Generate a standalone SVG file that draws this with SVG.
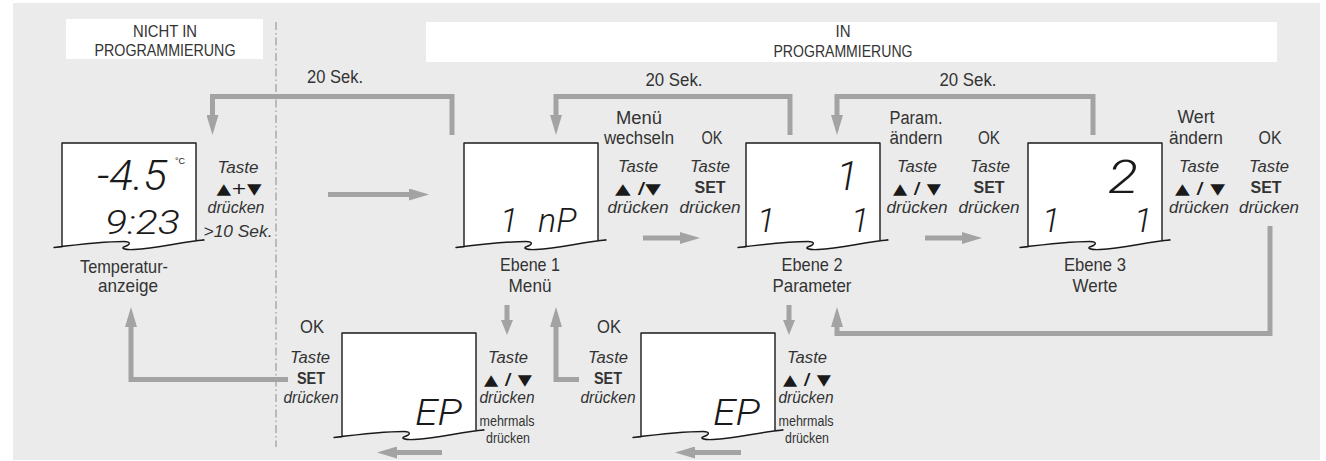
<svg xmlns="http://www.w3.org/2000/svg" xmlns:xlink="http://www.w3.org/1999/xlink" width="1326" height="461" viewBox="0 0 1326 461">
<style>
.bg{fill:#ebebeb}
.hdr{fill:#ffffff}
.t{font-family:"Liberation Sans Narrow","Liberation Sans",Arial,sans-serif;fill:#333;text-anchor:middle}
.f17{font-size:17px}
.f18{font-size:18px}
.f19{font-size:19px}
.f16{font-size:16px}
.f14{font-size:14px}
.tri{font-family:"DejaVu Sans","Liberation Sans",sans-serif;font-size:15px;fill:#1a1a1a;text-anchor:middle}
.i{font-style:italic}
.b{font-weight:bold}
.lcd{fill:#fff;stroke:#1a1a1a;stroke-width:1.4;stroke-linejoin:round}
.seg{font-family:Roboto,"Open Sans","Liberation Sans",sans-serif;font-weight:300;font-style:italic;fill:#1a1a1a}
.con{fill:none;stroke:#a3a3a3;stroke-width:5;stroke-linejoin:miter}
.div{stroke:#9a9a9a;stroke-width:1.2;stroke-dasharray:8 3 1.5 3;fill:none}
</style>
<defs>
<path id="lcdshape" class="lcd" d="M0,0 H134 V97.6 L142,97 C120,99 95,105 72,106.5 C62,107 58,105 63,103.5 C68,102 70,98.5 62,98.5 C45,98.5 20,101 -8,104.5 L0,103.8 Z"/>
<marker id="ah" markerUnits="userSpaceOnUse" viewBox="0 0 20 12" markerWidth="20" markerHeight="12" refX="2" refY="6" orient="auto">
<path d="M0,0 L20,6 L0,12 Z" fill="#a3a3a3"/>
</marker>
<marker id="ahs" markerUnits="userSpaceOnUse" viewBox="0 0 15 12" markerWidth="15" markerHeight="12" refX="2" refY="6" orient="auto">
<path d="M0,0 L15,6 L0,12 Z" fill="#a3a3a3"/>
</marker>
</defs>

<rect class="bg" x="13" y="3" width="1307" height="457"/>

<g id="header-nicht">
<rect class="hdr" x="66" y="19" width="197" height="40"/>
<text class="t f17" x="165" y="37" textLength="64" lengthAdjust="spacingAndGlyphs">NICHT IN</text>
<text class="t f17" x="165" y="56" textLength="141" lengthAdjust="spacingAndGlyphs">PROGRAMMIERUNG</text>
</g>
<g id="header-in">
<rect class="hdr" x="426" y="22" width="851" height="40"/>
<text class="t f17" x="843" y="37" textLength="15" lengthAdjust="spacingAndGlyphs">IN</text>
<text class="t f17" x="843" y="57" textLength="139" lengthAdjust="spacingAndGlyphs">PROGRAMMIERUNG</text>
</g>

<line class="div" x1="276" y1="22" x2="276" y2="447"/>

<g id="connectors">
<path class="con" d="M452,135 V96.5 H212.5 V117" marker-end="url(#ah)"/>
<path class="con" d="M790,135 V96.5 H556 V117" marker-end="url(#ah)"/>
<path class="con" d="M1093,135 V96.5 H837 V117" marker-end="url(#ah)"/>
<path class="con" d="M328,194.5 H411" marker-end="url(#ah)"/>
<path class="con" d="M643,238 H682" marker-end="url(#ah)"/>
<path class="con" d="M925,238 H964" marker-end="url(#ah)"/>
<path class="con" d="M507,305 V322" marker-end="url(#ahs)"/>
<path class="con" d="M789,305 V322" marker-end="url(#ahs)"/>
<path class="con" d="M288,379.5 H131 V325" marker-end="url(#ah)"/>
<path class="con" d="M579,379.5 H556 V325" marker-end="url(#ah)"/>
<path class="con" d="M1270,226 V333.5 H837 V325" marker-end="url(#ah)"/>
<path class="con" d="M442,452.5 H395" marker-end="url(#ah)"/>
<path class="con" d="M741,452.5 H693" marker-end="url(#ah)"/>
<text class="t f18" x="335" y="83" textLength="56" lengthAdjust="spacingAndGlyphs">20 Sek.</text>
<text class="t f18" x="674" y="86" textLength="57" lengthAdjust="spacingAndGlyphs">20 Sek.</text>
<text class="t f18" x="968" y="86" textLength="57" lengthAdjust="spacingAndGlyphs">20 Sek.</text>
</g>

<g id="temperaturanzeige">
<use xlink:href="#lcdshape" href="#lcdshape" transform="translate(62,143)"/>
<text class="seg" x="97" y="190" font-size="42" textLength="70" lengthAdjust="spacingAndGlyphs">-4.5</text>
<text x="175" y="164" font-size="9" font-family="Liberation Sans, Arial, sans-serif" fill="#1a1a1a">°C</text>
<text class="seg" x="105" y="234" font-size="34" textLength="75" lengthAdjust="spacingAndGlyphs">9:23</text>
<text class="t f19" x="124" y="273" textLength="88" lengthAdjust="spacingAndGlyphs">Temperatur-</text>
<text class="t f19" x="128" y="292" textLength="60" lengthAdjust="spacingAndGlyphs">anzeige</text>
<text class="t f16 i" x="238" y="173" textLength="41" lengthAdjust="spacingAndGlyphs">Taste</text>
<text class="tri" x="239" y="194" textLength="45" lengthAdjust="spacingAndGlyphs">▲+▼</text>
<text class="t f16 i" x="236" y="213" textLength="57" lengthAdjust="spacingAndGlyphs">drücken</text>
<text class="t f16 i" x="238" y="237" textLength="69" lengthAdjust="spacingAndGlyphs">&gt;10 Sek.</text>
</g>

<g id="ebene1">
<use xlink:href="#lcdshape" href="#lcdshape" transform="translate(464,143)"/>
<text class="seg" y="232" font-size="34"><tspan x="500">1 </tspan><tspan x="538">nP</tspan></text>
<text class="t f19" x="530" y="271" textLength="60" lengthAdjust="spacingAndGlyphs">Ebene 1</text>
<text class="t f19" x="530" y="292" textLength="43" lengthAdjust="spacingAndGlyphs">Menü</text>
<text class="t f18" x="639" y="124" textLength="46" lengthAdjust="spacingAndGlyphs">Menü</text>
<text class="t f18" x="639" y="144" textLength="70" lengthAdjust="spacingAndGlyphs">wechseln</text>
<text class="t f16 i" x="638" y="172" textLength="40" lengthAdjust="spacingAndGlyphs">Taste</text>
<text class="tri b" x="638" y="194" textLength="46" lengthAdjust="spacingAndGlyphs">▲ /▼</text>
<text class="t f16 i" x="638" y="213" textLength="61" lengthAdjust="spacingAndGlyphs">drücken</text>
<text class="t f18" x="712" y="144" textLength="21" lengthAdjust="spacingAndGlyphs">OK</text>
<text class="t f16 i" x="710" y="172" textLength="40" lengthAdjust="spacingAndGlyphs">Taste</text>
<text class="t f16 b" x="710" y="193" textLength="31" lengthAdjust="spacingAndGlyphs">SET</text>
<text class="t f16 i" x="710" y="213" textLength="61" lengthAdjust="spacingAndGlyphs">drücken</text>
</g>

<g id="ebene2">
<use xlink:href="#lcdshape" href="#lcdshape" transform="translate(746,143)"/>
<text class="seg" x="858" y="190" font-size="40" text-anchor="end">1</text>
<text class="seg" y="232" font-size="34"><tspan x="757">1 </tspan><tspan x="851">1</tspan></text>
<text class="t f19" x="812" y="271" textLength="61" lengthAdjust="spacingAndGlyphs">Ebene 2</text>
<text class="t f19" x="812" y="292" textLength="79" lengthAdjust="spacingAndGlyphs">Parameter</text>
<text class="t f18" x="916" y="124" textLength="53" lengthAdjust="spacingAndGlyphs">Param.</text>
<text class="t f18" x="916" y="144" textLength="53" lengthAdjust="spacingAndGlyphs">ändern</text>
<text class="t f16 i" x="917" y="172" textLength="40" lengthAdjust="spacingAndGlyphs">Taste</text>
<text class="tri b" x="917" y="194" textLength="48" lengthAdjust="spacingAndGlyphs">▲ / ▼</text>
<text class="t f16 i" x="917" y="213" textLength="61" lengthAdjust="spacingAndGlyphs">drücken</text>
<text class="t f18" x="989" y="144" textLength="22" lengthAdjust="spacingAndGlyphs">OK</text>
<text class="t f16 i" x="990" y="172" textLength="40" lengthAdjust="spacingAndGlyphs">Taste</text>
<text class="t f16 b" x="989" y="193" textLength="31" lengthAdjust="spacingAndGlyphs">SET</text>
<text class="t f16 i" x="989" y="213" textLength="61" lengthAdjust="spacingAndGlyphs">drücken</text>
</g>

<g id="ebene3">
<use xlink:href="#lcdshape" href="#lcdshape" transform="translate(1028,143)"/>
<text class="seg" x="1108" y="193" font-size="46" textLength="30" lengthAdjust="spacingAndGlyphs">2</text>
<text class="seg" y="232" font-size="34"><tspan x="1042">1 </tspan><tspan x="1134">1</tspan></text>
<text class="t f19" x="1095" y="271" textLength="62" lengthAdjust="spacingAndGlyphs">Ebene 3</text>
<text class="t f19" x="1095" y="292" textLength="45" lengthAdjust="spacingAndGlyphs">Werte</text>
<text class="t f18" x="1196" y="123" textLength="37" lengthAdjust="spacingAndGlyphs">Wert</text>
<text class="t f18" x="1196" y="144" textLength="54" lengthAdjust="spacingAndGlyphs">ändern</text>
<text class="t f16 i" x="1199" y="172" textLength="40" lengthAdjust="spacingAndGlyphs">Taste</text>
<text class="tri b" x="1200" y="194" textLength="50" lengthAdjust="spacingAndGlyphs">▲ / ▼</text>
<text class="t f16 i" x="1199" y="213" textLength="60" lengthAdjust="spacingAndGlyphs">drücken</text>
<text class="t f18" x="1270" y="144" textLength="23" lengthAdjust="spacingAndGlyphs">OK</text>
<text class="t f16 i" x="1269" y="172" textLength="40" lengthAdjust="spacingAndGlyphs">Taste</text>
<text class="t f16 b" x="1266" y="193" textLength="31" lengthAdjust="spacingAndGlyphs">SET</text>
<text class="t f16 i" x="1269" y="213" textLength="60" lengthAdjust="spacingAndGlyphs">drücken</text>
</g>

<g id="ep1">
<use xlink:href="#lcdshape" href="#lcdshape" transform="translate(342,333)"/>
<text class="seg" x="415" y="425" font-size="36" textLength="47" lengthAdjust="spacingAndGlyphs">EP</text>
<text class="t f18" x="312" y="333" textLength="24" lengthAdjust="spacingAndGlyphs">OK</text>
<text class="t f16 i" x="310" y="363" textLength="40" lengthAdjust="spacingAndGlyphs">Taste</text>
<text class="t f16 b" x="311" y="384" textLength="28" lengthAdjust="spacingAndGlyphs">SET</text>
<text class="t f16 i" x="311" y="403" textLength="55" lengthAdjust="spacingAndGlyphs">drücken</text>
<text class="t f16 i" x="508" y="363" textLength="40" lengthAdjust="spacingAndGlyphs">Taste</text>
<text class="tri b" x="508" y="385" textLength="48" lengthAdjust="spacingAndGlyphs">▲ / ▼</text>
<text class="t f16 i" x="507" y="403" textLength="55" lengthAdjust="spacingAndGlyphs">drücken</text>
<text class="t f14" x="507" y="426" textLength="55" lengthAdjust="spacingAndGlyphs">mehrmals</text>
<text class="t f14" x="508" y="443" textLength="44" lengthAdjust="spacingAndGlyphs">drücken</text>
</g>

<g id="ep2">
<use xlink:href="#lcdshape" href="#lcdshape" transform="translate(641,333)"/>
<text class="seg" x="713" y="425" font-size="36" textLength="47" lengthAdjust="spacingAndGlyphs">EP</text>
<text class="t f18" x="609" y="333" textLength="24" lengthAdjust="spacingAndGlyphs">OK</text>
<text class="t f16 i" x="608" y="363" textLength="40" lengthAdjust="spacingAndGlyphs">Taste</text>
<text class="t f16 b" x="608" y="384" textLength="28" lengthAdjust="spacingAndGlyphs">SET</text>
<text class="t f16 i" x="608" y="403" textLength="55" lengthAdjust="spacingAndGlyphs">drücken</text>
<text class="t f16 i" x="807" y="363" textLength="40" lengthAdjust="spacingAndGlyphs">Taste</text>
<text class="tri b" x="807" y="385" textLength="48" lengthAdjust="spacingAndGlyphs">▲ / ▼</text>
<text class="t f16 i" x="806" y="403" textLength="55" lengthAdjust="spacingAndGlyphs">drücken</text>
<text class="t f14" x="806" y="426" textLength="55" lengthAdjust="spacingAndGlyphs">mehrmals</text>
<text class="t f14" x="807" y="443" textLength="44" lengthAdjust="spacingAndGlyphs">drücken</text>
</g>
</svg>
